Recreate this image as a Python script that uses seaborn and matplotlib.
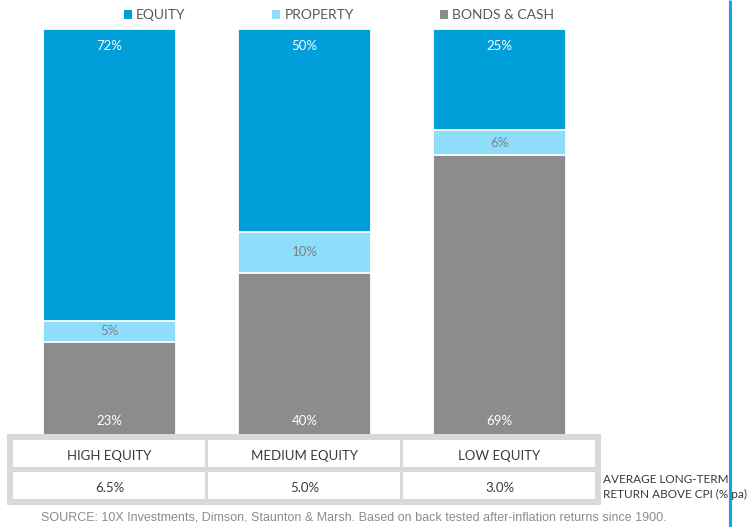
import matplotlib
matplotlib.use("Agg")
import matplotlib.pyplot as plt
import seaborn as sns
import pandas as pd
from matplotlib.patches import Rectangle, Patch

portfolios = ["HIGH EQUITY", "MEDIUM EQUITY", "LOW EQUITY"]
equity = [72, 50, 25]
property_ = [5, 10, 6]
bonds_cash = [23, 40, 69]
returns = ["6.5%", "5.0%", "3.0%"]
series = ["EQUITY", "PROPERTY", "BONDS & CASH"]
colors = ["#009FDA", "#8EDDFA", "#8C8C8C"]

W, H = 755, 527
sns.set_theme(style="white")
plt.rcParams["font.family"] = ["Lato", "DejaVu Sans"]

fig = plt.figure(figsize=(W / 100, H / 100), dpi=100)


def px_axes(x0, y0, x1, y1):
    # box given in pixels, origin top-left
    return fig.add_axes([x0 / W, 1 - y1 / H, (x1 - x0) / W, (y1 - y0) / H])


ax = px_axes(12, 29, 597, 435)

df = pd.DataFrame({"portfolio": portfolios, "equity": equity,
                   "property": property_, "bonds": bonds_cash})
df["top"] = df["equity"] + df["property"] + df["bonds"]
df["mid"] = df["property"] + df["bonds"]

# stacked look: draw cumulative totals, largest first
for col, c in zip(["top", "mid", "bonds"], colors):
    sns.barplot(data=df, x="portfolio", y=col, color=c, width=0.687,
                saturation=1, edgecolor="white", linewidth=1.3, ax=ax)

ax.set_xlim(-0.5, 2.5)
ax.set_ylim(0, 100)
ax.axis("off")

for i in range(len(portfolios)):
    ax.text(i, 95.8, f"{equity[i]}%", color="white", ha="center", va="center", fontsize=9.5)
    ax.text(i, bonds_cash[i] + property_[i] / 2, f"{property_[i]}%", color="#808080",
            ha="center", va="center", fontsize=9.5)
    ax.text(i, 3.4, f"{bonds_cash[i]}%", color="white", ha="center", va="center", fontsize=9.5)

# overlay in pixel coords for table, side line, source
ov = fig.add_axes([0, 0, 1, 1], facecolor="none")
ov.set_xlim(0, W)
ov.set_ylim(H, 0)
ov.axis("off")

ov.add_patch(Rectangle((7, 434), 594, 71, facecolor="#D9D9D9", edgecolor="none"))
for i in range(len(portfolios)):
    cx = ax.transData.transform((i, 0))[0]
    for (y0, y1), txt in zip([(440, 467), (472, 499)], [portfolios[i], returns[i]]):
        ov.add_patch(Rectangle((cx - 96, y0), 192, y1 - y0, facecolor="white", edgecolor="none"))
        ov.text(cx, (y0 + y1) / 2 + 2, txt, ha="center", va="center", fontsize=9.5, color="#3A3A3A")

ov.text(603, 487, "AVERAGE LONG-TERM\nRETURN ABOVE CPI (% pa)", ha="left", va="center",
        fontsize=8.5, color="#3A3A3A", linespacing=1.35)

ov.plot([730, 730], [0, H], color="#1BA1E2", lw=2.2, solid_capstyle="butt")

ov.text(354, 517, "SOURCE: 10X Investments, Dimson, Staunton & Marsh. Based on back tested "
        "after-inflation returns since 1900.", ha="center", va="center", fontsize=9,
        color="#8C8C8C", family=["Liberation Sans", "DejaVu Sans"])

fig.legend(handles=[Patch(facecolor=c, edgecolor="none") for c in colors], labels=series,
           ncol=3, loc="center", bbox_to_anchor=(339 / W, 1 - 15 / H), frameon=False,
           handlelength=0.6, handleheight=0.6, handletextpad=0.3, columnspacing=6.2,
           fontsize=10, labelcolor="#595959")

fig.savefig("out.png", dpi=100)
